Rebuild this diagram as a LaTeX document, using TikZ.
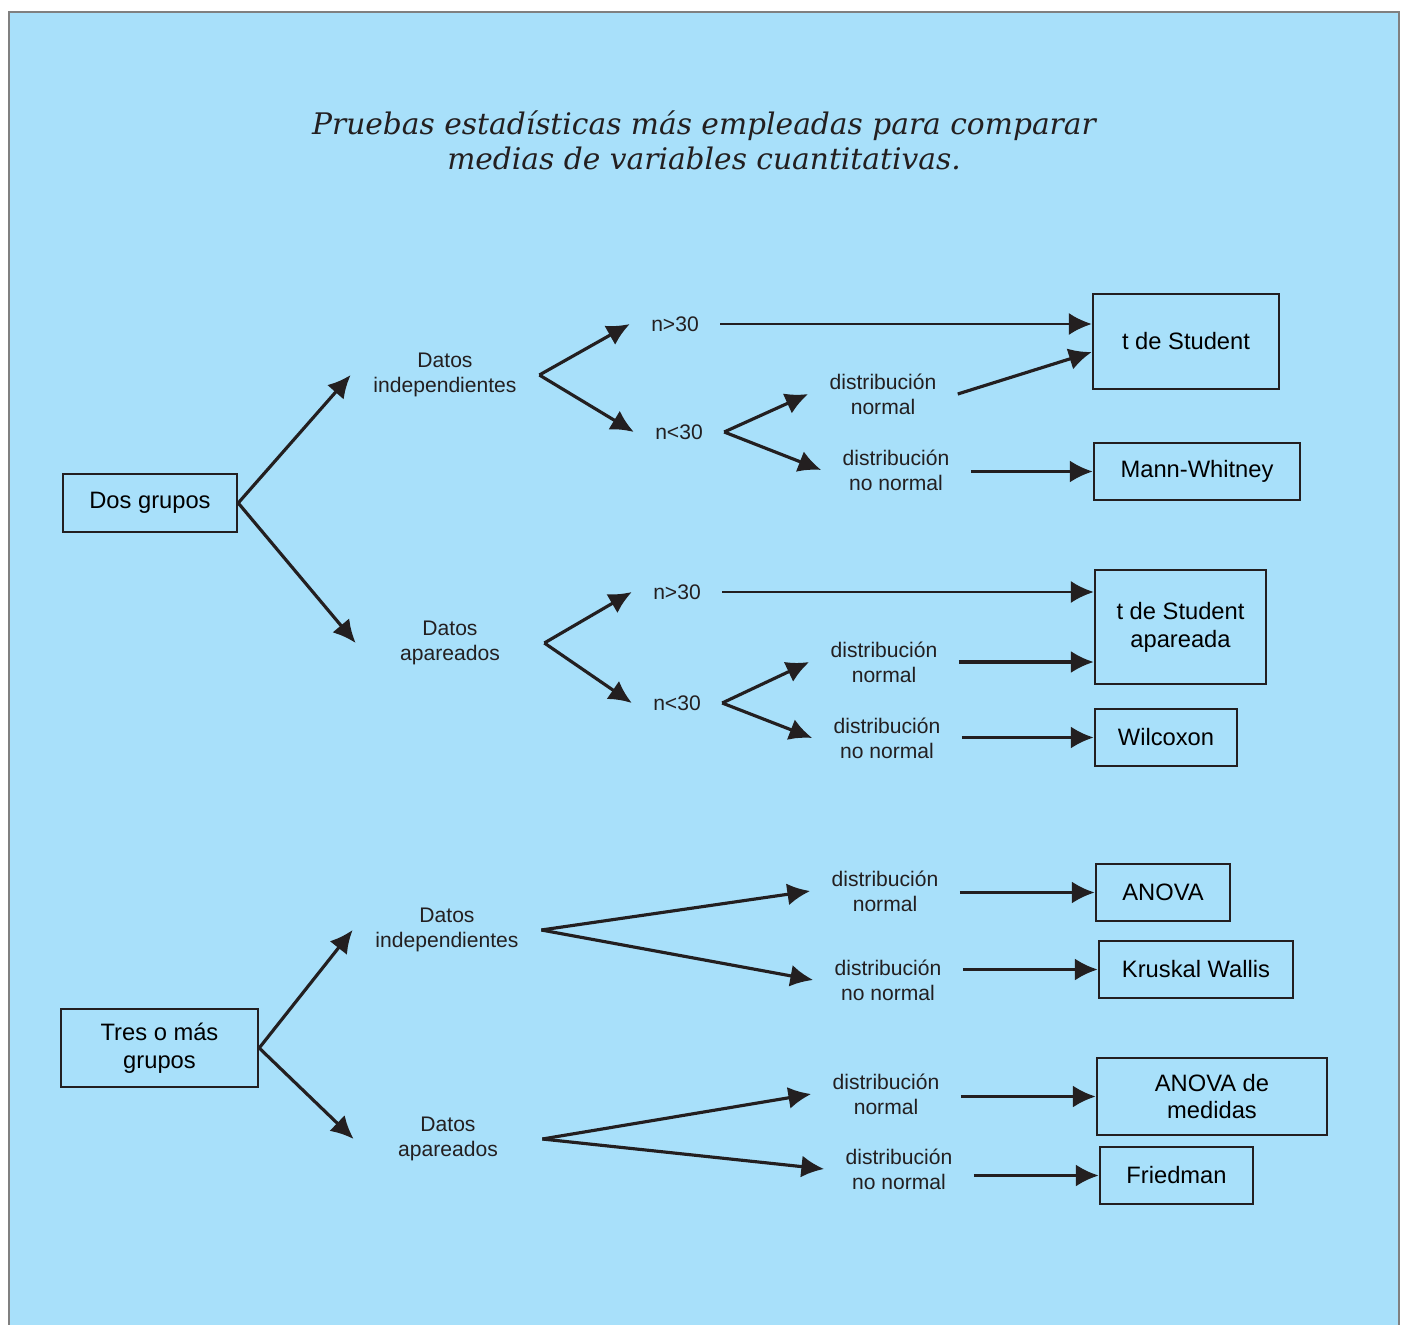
\documentclass[tikz,border=0pt]{standalone}
\usepackage{fontspec}
\setmainfont{Liberation Sans}
\newfontfamily\titlefont{DejaVu Serif}
\usetikzlibrary{arrows.meta}
\definecolor{fondo}{HTML}{A8E0FA}
\definecolor{tinta}{HTML}{231F20}

\begin{document}
\begin{tikzpicture}[x=0.02cm, y=-0.02cm,
  caja/.style={draw=tinta, line width=1.4pt, align=center, inner sep=0pt,
    font=\fontsize{13.5}{15.8}\selectfont},
  etiq/.style={align=center, inner xsep=12pt, inner ysep=2pt,
    font=\fontsize{12}{14.2}\selectfont},
  datos/.style={etiq, text width=83pt},
  flecha/.style={draw=tinta, line width=1.8pt, -{Latex[length=13pt,width=12.5pt]}}]
  \useasboundingbox (0,0) rectangle (1404,1325);
  \fill[fondo] (9,12) rectangle (1399,1325);
  \draw[gray, line width=0.6pt] (9,1325) -- (9,12) -- (1399,12) -- (1399,1325);

  \node[font=\titlefont\itshape\fontsize{16.9}{19.9}\selectfont, align=center, text=tinta]
    (titulo) at (704,140) {Pruebas estadísticas más empleadas para comparar\\
    medias de variables cuantitativas.};

  % cajas
  \node[caja, minimum width=3.48cm, minimum height=1.16cm] (dg) at (150,503) {Dos grupos};
  \node[caja, minimum width=3.94cm, minimum height=1.56cm] (tg) at (159.5,1048) {Tres o más\\grupos};
  \node[caja, minimum width=3.72cm, minimum height=1.9cm] (ts) at (1186,341.5) {t de Student};
  \node[caja, minimum width=4.12cm, minimum height=1.14cm] (mw) at (1197,471.5) {Mann-Whitney};
  \node[caja, minimum width=3.42cm, minimum height=2.28cm] (tsa) at (1180.5,627) {t de Student\\apareada};
  \node[caja, minimum width=2.84cm, minimum height=1.14cm] (wx) at (1166,737.5) {Wilcoxon};
  \node[caja, minimum width=2.68cm, minimum height=1.14cm] (an) at (1163,892.5) {ANOVA};
  \node[caja, minimum width=3.88cm, minimum height=1.14cm] (kw) at (1196,969.5) {Kruskal Wallis};
  \node[caja, minimum width=4.6cm, minimum height=1.54cm] (am) at (1212,1096.5) {ANOVA de\\medidas};
  \node[caja, minimum width=3.06cm, minimum height=1.14cm] (fr) at (1176.5,1175.5) {Friedman};

  % etiquetas
  \begin{scope}[text=tinta]
    \node[datos] (di1) at (445,375) {Datos\\independientes};
    \node[datos] (da1) at (450,643) {Datos\\apareados};
    \node[etiq] (na1) at (675,324) {n>30};
    \node[etiq] (nb1) at (679,432) {n<30};
    \node[etiq] (dn1) at (883,394) {distribución\\normal};
    \node[etiq] (dnn1) at (896,470) {distribución\\no normal};
    \node[etiq] (na2) at (677,592) {n>30};
    \node[etiq] (nb2) at (677,703) {n<30};
    \node[etiq] (dn2) at (884,662) {distribución\\normal};
    \node[etiq] (dnn2) at (887,738) {distribución\\no normal};
    \node[datos] (di2) at (447,930) {Datos\\independientes};
    \node[etiq] (dn3) at (885,891) {distribución\\normal};
    \node[etiq] (dnn3) at (888,980) {distribución\\no normal};
    \node[datos] (da2) at (448,1139) {Datos\\apareados};
    \node[etiq] (dn4) at (886,1094) {distribución\\normal};
    \node[etiq] (dnn4) at (899,1169) {distribución\\no normal};
  \end{scope}

  % ramas
  \foreach \a/\b in {dg/di1, dg/da1, di1/na1, di1/nb1, nb1/dn1, nb1/dnn1,
      da1/na2, da1/nb2, nb2/dn2, nb2/dnn2, tg/di2, tg/da2,
      di2/dn3, di2/dnn3, da2/dn4, da2/dnn4}
    \draw[flecha] (\a.east) -- (\b.west);

  \draw[flecha, line width=1.4pt] (na1.east) -- (na1.east -| ts.west);
  \draw[flecha] (dn1.east) -- ([yshift=-6pt]ts.west);
  \draw[flecha, line width=1.4pt] (na2.east) -- (na2.east -| tsa.west);
  \draw[flecha] (dn2.east) -- (dn2.east -| tsa.west);
  \foreach \a/\b in {dnn1/mw, dnn2/wx, dn3/an, dnn3/kw, dn4/am, dnn4/fr}
    \draw[flecha] (\a.east |- \b.west) -- (\b.west);
\end{tikzpicture}
\end{document}
